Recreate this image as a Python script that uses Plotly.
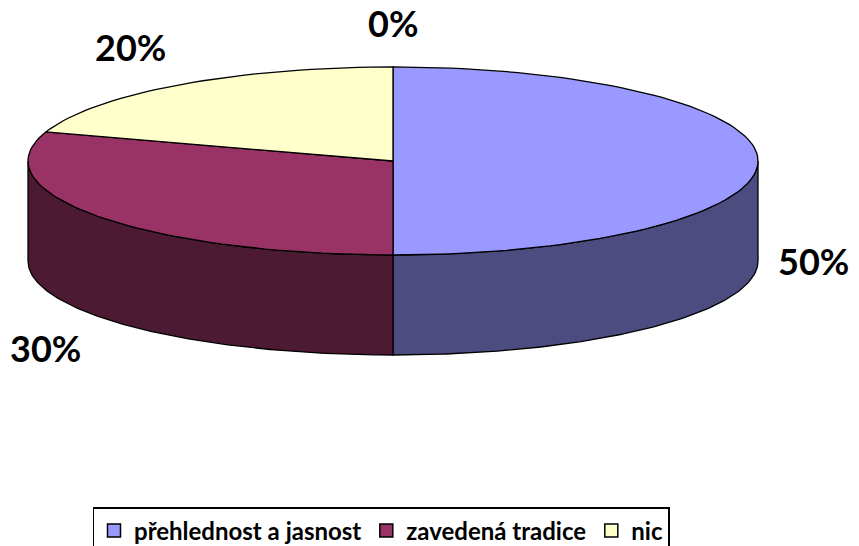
import numpy as np
import plotly.graph_objects as go

# ---- data ----
categories = ["přehlednost a jasnost", "zavedená tradice", "nic", ""]
values = [50, 30, 20, 0]

# ---- style ----
top_colors = ["#9999FF", "#993366", "#FFFFCC", "#CCFFFF"]
side_colors = ["#4C4C80", "#4C1A33", "#808066", "#668080"]
W, H = 859, 546
cx, cy, rx, ry, depth = 393, 161, 365, 94, 100
FONT = "Lato"
LBL_SIZE = 36
GX, GY, HALF_H = 18, 32, 12.5

def ell(theta, dy=0.0):
    return cx + rx * np.sin(theta), cy - ry * np.cos(theta) + dy

total = float(sum(values))
bounds = []
acc = 0.0
for v in values:
    a1 = acc / total * 2 * np.pi
    acc += v
    a2 = acc / total * 2 * np.pi
    bounds.append((a1, a2))

fig = go.Figure()

# sides (front-facing part of each slice)
for (a1, a2), v, sc in zip(bounds, values, side_colors):
    if v <= 0:
        continue
    s, e = max(a1, np.pi / 2), min(a2, 3 * np.pi / 2)
    if e <= s:
        continue
    t = np.linspace(s, e, 120)
    xt, yt = ell(t)
    xb, yb = ell(t[::-1], depth)
    xs = np.concatenate([xt, xb, xt[:1]])
    ys = np.concatenate([yt, yb, yt[:1]])
    fig.add_trace(go.Scatter(x=xs, y=ys, mode="lines", fill="toself",
                             fillcolor=sc, line=dict(color="black", width=1.3),
                             hoverinfo="skip", showlegend=False))

# top faces
for (a1, a2), v, tc in zip(bounds, values, top_colors):
    if v <= 0:
        continue
    n = max(3, int(200 * (a2 - a1) / (2 * np.pi)))
    t = np.linspace(a1, a2, n)
    xa, ya = ell(t)
    xs = np.concatenate([[cx], xa, [cx]])
    ys = np.concatenate([[cy], ya, [cy]])
    fig.add_trace(go.Scatter(x=xs, y=ys, mode="lines", fill="toself",
                             fillcolor=tc, line=dict(color="black", width=1.3),
                             hoverinfo="skip", showlegend=False))

# legend entries
for cat, tc in zip(categories, top_colors):
    if not cat:
        continue
    fig.add_trace(go.Scatter(x=[None], y=[None], mode="markers", name=cat,
                             marker=dict(symbol="square", size=13, color=tc,
                                         line=dict(color="black", width=1.5))))

# data labels (outside end, Excel-like placement)
for (a1, a2), v in zip(bounds, values):
    mid = (a1 + a2) / 2
    s, c = np.sin(mid), np.cos(mid)
    base = cy if c > 1e-6 else cy + depth
    ax_ = cx + (rx + GX) * s
    ay_ = base - (ry + GY) * c
    if s > 0.3:
        xanc = "left"
    elif s < -0.3:
        xanc = "right"
    else:
        xanc = "center"
    if c > 0.3:
        ay_ -= HALF_H
    elif c < -0.3:
        ay_ += HALF_H
    fig.add_annotation(x=ax_, y=ay_, text=f"{round(v / total * 100)}%",
                       showarrow=False, xanchor=xanc, yanchor="middle",
                       font=dict(family=FONT, size=LBL_SIZE, color="black", weight="bold"))

fig.update_layout(
    width=W, height=H, margin=dict(l=0, r=0, t=0, b=0, autoexpand=False),
    paper_bgcolor="white", plot_bgcolor="white",
    xaxis=dict(range=[0, W], visible=False, fixedrange=True),
    yaxis=dict(range=[H, 0], visible=False, fixedrange=True),
    showlegend=True,
    legend=dict(orientation="h", x=381 / W, xanchor="center",
                y=1 - 507 / H, yanchor="top",
                bordercolor="black", borderwidth=1.5, bgcolor="white",
                font=dict(family=FONT, size=24, color="black", weight="bold"),
                itemwidth=30, tracegroupgap=0),
)

fig.write_html("out.html", config={"displayModeBar": False},
               post_script="document.body.style.margin='0';document.body.style.overflow='hidden';")
